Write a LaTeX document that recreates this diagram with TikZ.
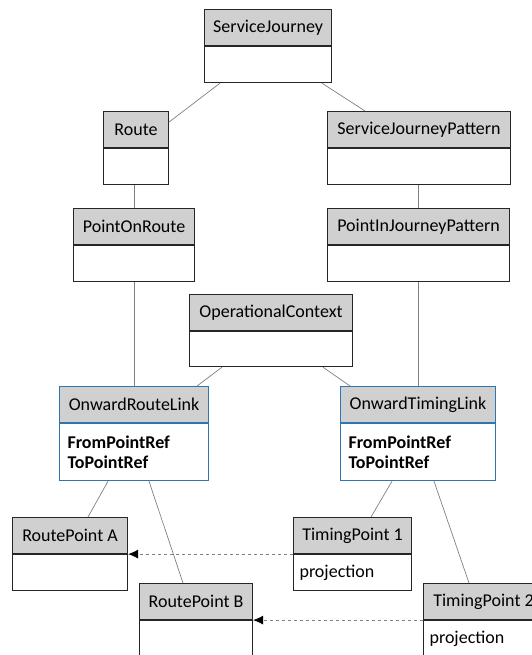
\documentclass[tikz,border=0pt]{standalone}
\usepackage{fontspec}
\setmainfont{Carlito}
\usetikzlibrary{calc,arrows.meta}
\definecolor{headgray}{RGB}{208,208,208}
\definecolor{boxline}{RGB}{38,38,38}
\definecolor{linkblue}{RGB}{46,117,182}
\definecolor{conngray}{RGB}{128,128,128}
\tikzset{
	head/.style={draw=boxline, fill=headgray, line width=1.1pt, minimum height=36pt, inner sep=0pt, anchor=north west},
	body/.style={draw=boxline, fill=white, line width=1.1pt, minimum height=36pt, inner xsep=6pt, inner ysep=0pt, anchor=north west, align=left},
	linkhead/.style={head, draw=linkblue},
	linkbody/.style={body, draw=linkblue, minimum height=57pt, inner xsep=8pt, font=\fontsize{18}{20}\selectfont\bfseries},
	conn/.style={draw=conngray, line width=0.7pt},
	projline/.style={draw=conngray, line width=0.7pt, dashed, -{Latex[length=10pt,width=9pt,black]}}
}

\begin{document}
\begin{tikzpicture}[x=1pt, y=-1pt, font=\fontsize{18}{20}\selectfont]
	\useasboundingbox (0,0) rectangle (532,655);
	\clip (0,0) rectangle (532,655);
	% upper classes
	\node[head, minimum width=127pt] (sj) at (204,9) {ServiceJourney};
	\node[body, minimum width=127pt] (sjb) at (sj.south west) {};
	\node[head, minimum width=65pt] (route) at (103,111) {Route};
	\node[body, minimum width=65pt] (routeb) at (route.south west) {};
	\node[head, minimum width=183pt] (sjp) at (327,111) {ServiceJourneyPattern};
	\node[body, minimum width=183pt] (sjpb) at (sjp.south west) {};
	\node[head, minimum width=121pt] (por) at (73,208) {PointOnRoute};
	\node[body, minimum width=121pt] (porb) at (por.south west) {};
	\node[head, minimum width=182pt] (pijp) at (327,208) {PointInJourneyPattern};
	\node[body, minimum width=182pt] (pijpb) at (pijp.south west) {};
	\node[head, minimum width=163pt] (oc) at (189,294) {OperationalContext};
	\node[body, minimum width=163pt, minimum height=35pt] (ocb) at (oc.south west) {};
	% links
	\node[linkhead, minimum width=149pt] (orl) at (59,386) {OnwardRouteLink};
	\node[linkbody, text width=133pt] (orlb) at (orl.south west) {FromPointRef\\ToPointRef};
	\node[linkhead, minimum width=155pt] (otl) at (340,386) {OnwardTimingLink};
	\node[linkbody, text width=139pt] (otlb) at (otl.south west) {FromPointRef\\ToPointRef};
	% points
	\node[head, minimum width=115pt] (rpa) at (12,517) {RoutePoint A};
	\node[body, minimum width=115pt] (rpab) at (rpa.south west) {};
	\node[head, minimum width=113pt] (rpb) at (139,583) {RoutePoint B};
	\node[body, minimum width=113pt] (rpbb) at (rpb.south west) {};
	\node[head, minimum width=118pt] (tpa) at (293,517) {TimingPoint 1};
	\node[body, text width=106pt] (tpab) at (tpa.south west) {projection};
	\node[head, minimum width=120pt] (tpb) at (423,583) {TimingPoint 2};
	\node[body, text width=108pt] (tpbb) at (tpb.south west) {projection};
	% connectors
	\draw[conn] ($(sjb.south west)+(16,0)$) -- ($(route.north east)+(0,11)$);
	\draw[conn] ($(sjb.south west)+(118,0)$) -- ($(sjp.north west)+(38,0)$);
	\draw[conn] ($(routeb.south west)+(31,0)$) -- ($(por.north west)+(61,0)$);
	\draw[conn] ($(sjpb.south west)+(91,0)$) -- ($(pijp.north west)+(91,0)$);
	\draw[conn] ($(porb.south west)+(61,0)$) -- ($(orl.north west)+(75,0)$);
	\draw[conn] ($(pijpb.south west)+(91,0)$) -- ($(otl.north west)+(78,0)$);
	\draw[conn] ($(ocb.south west)+(33,0)$) -- ($(orl.north west)+(138,0)$);
	\draw[conn] ($(ocb.south west)+(134,0)$) -- ($(otl.north west)+(10,0)$);
	\draw[conn] ($(orlb.south west)+(49,0)$) -- ($(rpa.north west)+(76,0)$);
	\draw[conn] ($(orlb.south west)+(90,0)$) -- ($(rpb.north west)+(44,0)$);
	\draw[conn] ($(otlb.south west)+(52,0)$) -- ($(tpa.north west)+(78,0)$);
	\draw[conn] ($(otlb.south west)+(94,0)$) -- ($(tpb.north west)+(46,0)$);
	\draw[projline] (tpa.south west) -- (rpa.south east);
	\draw[projline] (tpb.south west) -- (rpb.south east);
\end{tikzpicture}
\end{document}
